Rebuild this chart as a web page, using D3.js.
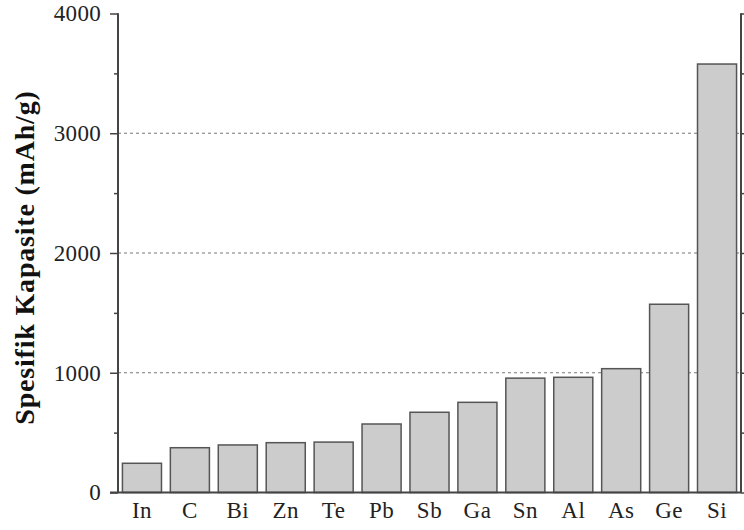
<!DOCTYPE html>
<html><head><meta charset="utf-8">
<script src="https://cdn.jsdelivr.net/npm/d3@7"></script>
<style>body{margin:0;background:#fff}svg{display:block}</style>
</head><body>
<script>
const categories = ["In","C","Bi","Zn","Te","Pb","Sb","Ga","Sn","Al","As","Ge","Si"];
const capacities = [244,374,397,416,421,572,670,753,955,962,1034,1572,3578];
const majorTicks = [0,1000,2000,3000,4000];
const minorTicks = [500,1500,2500,3500];
const gridTicks = [1000,2000,3000];
const yTitle = "Spesifik Kapasite (mAh/g)";

const W=744,H=530;
const m={l:118,r:3,t:13.5,b:37.5};
const svg=d3.select("body").append("svg").attr("width",W).attr("height",H);
const x=d3.scaleBand().domain(categories).range([m.l,W-m.r]).paddingInner(0.185).paddingOuter(0.0925);
const y=d3.scaleLinear().domain([0,4000]).range([H-m.b,m.t]);
const serif="'Liberation Serif','Times New Roman',serif";
const axisCol="#444";

// grid
svg.append("g").selectAll("line").data(gridTicks).join("line")
 .attr("x1",m.l).attr("x2",W-m.r).attr("y1",d=>y(d)).attr("y2",d=>y(d))
 .attr("stroke","#777").attr("stroke-width",1).attr("stroke-dasharray","3,3");

// bars
svg.append("g").selectAll("rect").data(categories).join("rect")
 .attr("x",d=>x(d)).attr("width",x.bandwidth())
 .attr("y",(d,i)=>y(capacities[i])).attr("height",(d,i)=>y(0)-y(capacities[i]))
 .attr("fill","#cccccc").attr("stroke","#555").attr("stroke-width",1.5);

// left axis
const gl=svg.append("g").attr("transform",`translate(${m.l},0)`);
gl.call(d3.axisLeft(y).tickValues(majorTicks).tickSize(8).tickPadding(9).tickFormat(d3.format("d")));
gl.selectAll("text").attr("font-family",serif).attr("font-size",23).attr("letter-spacing",0.3).attr("fill","#222");
const glm=svg.append("g").attr("transform",`translate(${m.l},0)`);
glm.call(d3.axisLeft(y).tickValues(minorTicks).tickSize(4).tickFormat(""));
// right axis
const gr=svg.append("g").attr("transform",`translate(${W-m.r},0)`);
gr.call(d3.axisRight(y).tickValues(majorTicks).tickSize(8).tickFormat(""));
const grm=svg.append("g").attr("transform",`translate(${W-m.r},0)`);
grm.call(d3.axisRight(y).tickValues(minorTicks).tickSize(4).tickFormat(""));
// bottom axis
const gb=svg.append("g").attr("transform",`translate(0,${y(0)})`);
gb.call(d3.axisBottom(x).tickSize(0).tickPadding(9));
gb.selectAll("text").attr("font-family",serif).attr("font-size",23).attr("letter-spacing",0.5).attr("fill","#222");

svg.selectAll(".domain").attr("stroke",axisCol).attr("stroke-width",2);
svg.selectAll(".tick line").attr("stroke",axisCol).attr("stroke-width",1.5);
[gl,glm,gr,grm].forEach(g=>g.select(".domain").attr("d",`M0,${y(4000)}V${y(0)}`));
gb.select(".domain").attr("d",`M${m.l-8},0H${W-m.r}`);

svg.append("text").attr("transform",`translate(34,257.5) rotate(-90)`)
 .attr("text-anchor","middle").attr("font-family",serif).attr("font-weight","bold")
 .attr("font-size",28).attr("letter-spacing",0.8).attr("fill","#111").text(yTitle);
</script>
</body></html>
